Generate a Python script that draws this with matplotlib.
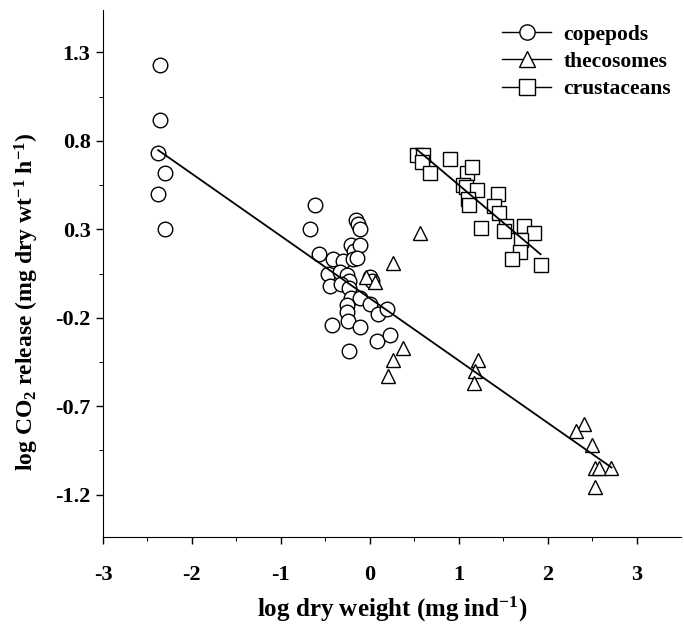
import numpy as np
import matplotlib.pyplot as plt
from matplotlib.ticker import FixedLocator

plt.rcParams['font.family'] = 'Liberation Serif'
plt.rcParams['font.weight'] = 'bold'
plt.rcParams['axes.labelweight'] = 'bold'
plt.rcParams['mathtext.fontset'] = 'custom'
plt.rcParams['mathtext.rm'] = 'Liberation Serif:bold'
plt.rcParams['mathtext.it'] = 'Liberation Serif:bold'
plt.rcParams['mathtext.default'] = 'rm'

# --- data (log dry weight, log CO2 release) ---
cop_x = [-2.36, -2.36, -2.38, -2.30, -2.38, -2.30,
         -0.62, -0.67, -0.16, -0.13, -0.11, -0.21, -0.18, -0.11, -0.57,
         -0.41, -0.30, -0.19, -0.14, -0.47, -0.34, -0.26, -0.23, 0.00, 0.02,
         -0.45, -0.32, -0.23, -0.21, -0.11, -0.26, -0.26, 0.00, 0.09, 0.19,
         -0.43, -0.24, -0.11, 0.08, 0.23, -0.23]
cop_y = [1.23, 0.92, 0.73, 0.62, 0.50, 0.30,
         0.44, 0.30, 0.35, 0.33, 0.30, 0.21, 0.18, 0.21, 0.16,
         0.13, 0.12, 0.13, 0.14, 0.05, 0.06, 0.04, 0.01, 0.03, 0.01,
         -0.02, -0.01, -0.03, -0.09, -0.09, -0.13, -0.17, -0.12, -0.18, -0.15,
         -0.24, -0.22, -0.25, -0.33, -0.30, -0.39]

theco_x = [0.57, 0.26, -0.04, 0.06, 0.37, 0.26, 0.21, 1.22, 1.18, 1.17,
           2.41, 2.32, 2.50, 2.53, 2.58, 2.71, 2.53]
theco_y = [0.28, 0.11, 0.03, 0.00, -0.37, -0.44, -0.53, -0.44, -0.50, -0.57,
           -0.80, -0.84, -0.92, -1.05, -1.05, -1.05, -1.16]

crus_x = [0.53, 0.60, 0.59, 0.68, 0.90, 1.09, 1.15, 1.05, 1.08, 1.21,
          1.11, 1.12, 1.44, 1.40, 1.45, 1.25, 1.53, 1.51, 1.74, 1.85,
          1.70, 1.69, 1.60, 1.92]
crus_y = [0.72, 0.72, 0.68, 0.62, 0.70, 0.62, 0.65, 0.55, 0.54, 0.52,
          0.47, 0.44, 0.50, 0.43, 0.39, 0.31, 0.32, 0.29, 0.32, 0.28,
          0.24, 0.17, 0.13, 0.10]

# regression lines: (x start, x end, intercept, slope)
fit_all = (-2.38, 2.72, -0.09, -0.352)
fit_crus = (0.52, 1.92, 0.977, -0.426)

fig = plt.figure(figsize=(6.84, 6.27), dpi=100)
ax = fig.add_axes([103 / 684, 1 - 537 / 627, 578 / 684, 527 / 627])

mk = dict(linestyle='none', markerfacecolor='white', markeredgecolor='black',
          markeredgewidth=1.0, markersize=10.5)
ax.plot(cop_x, cop_y, marker='o', **mk)
ax.plot(theco_x, theco_y, marker='^', **mk)
ax.plot(crus_x, crus_y, marker='s', **mk)

for x0, x1, a, b in (fit_all, fit_crus):
    xs = np.array([x0, x1])
    ax.plot(xs, a + b * xs, color='black', linewidth=1.3)

ax.set_xlim(-3, 3.5)
ax.set_ylim(-1.44, 1.54)
ax.xaxis.set_major_locator(FixedLocator([-3, -2, -1, 0, 1, 2, 3]))
ax.xaxis.set_minor_locator(FixedLocator([-2.5, -1.5, -0.5, 0.5, 1.5, 2.5]))
ax.yaxis.set_major_locator(FixedLocator([1.3, 0.8, 0.3, -0.2, -0.7, -1.2]))
ax.yaxis.set_minor_locator(FixedLocator([1.05, 0.55, 0.05, -0.45, -0.95]))
ax.set_yticklabels(['1.3', '0.8', '0.3', '-0.2', '-0.7', '-1.2'])
ax.set_xticklabels(['-3', '-2', '-1', '0', '1', '2', '3'])
ax.tick_params(which='major', direction='out', length=5, width=1, labelsize=16)
ax.tick_params(which='minor', direction='out', length=3, width=0.7)
ax.tick_params(axis='x', pad=15)
ax.tick_params(axis='y', pad=4)
for s in ('top', 'right'):
    ax.spines[s].set_visible(False)

ax.set_xlabel('log dry weight (mg ind$^{-1}$)', fontsize=18, labelpad=7)
ax.set_ylabel('log CO$_2$ release (mg dry wt$^{-1}$ h$^{-1}$)', fontsize=17)
ax.yaxis.set_label_coords(-0.108, 0.446)

hk = dict(color='black', markerfacecolor='white', markeredgecolor='black',
          markersize=11, linewidth=1.0)
handles = [plt.Line2D([], [], marker='o', **hk),
           plt.Line2D([], [], marker='^', **hk),
           plt.Line2D([], [], marker='s', **hk)]
ax.legend(handles, ['copepods', 'thecosomes', 'crustaceans'], loc='upper left',
          bbox_to_anchor=(0.69, 0.972), frameon=False, fontsize=15.5,
          borderpad=0, borderaxespad=0,
          handlelength=2.3, handletextpad=0.55, labelspacing=0.33)

fig.savefig('out.png', dpi=100)
